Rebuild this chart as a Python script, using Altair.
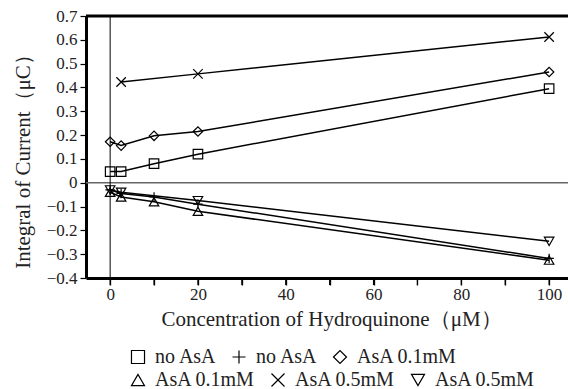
import altair as alt
import pandas as pd

# ---- data ----
series_names = ["no AsA", "no AsA ", "AsA 0.1mM", "AsA 0.1mM ", "AsA 0.5mM", "AsA 0.5mM "]
shapes = ["square", "M-1,0L1,0M0,-1L0,1", "diamond", "triangle-up",
          "M-1,-1L1,1M1,-1L-1,1", "triangle-down"]
legend_row1 = ["no AsA", "no AsA ", "AsA 0.1mM"]
legend_row2 = ["AsA 0.1mM ", "AsA 0.5mM", "AsA 0.5mM "]

sq_x = [0, 2.5, 10, 20, 100]
sq_y = [0.047, 0.047, 0.08, 0.12, 0.395]
pl_x = [0, 2.5, 10, 20, 100]
pl_y = [-0.03, -0.045, -0.06, -0.09, -0.318]
di_x = [0, 2.5, 10, 20, 100]
di_y = [0.172, 0.156, 0.197, 0.215, 0.465]
tr_x = [0, 2.5, 10, 20, 100]
tr_y = [-0.04, -0.06, -0.08, -0.12, -0.325]
cr_x = [2.5, 20, 100]
cr_y = [0.423, 0.457, 0.612]
td_x = [0, 2.5, 20, 100]
td_y = [-0.03, -0.04, -0.075, -0.246]

xs = [sq_x, pl_x, di_x, tr_x, cr_x, td_x]
ys = [sq_y, pl_y, di_y, tr_y, cr_y, td_y]

x_ticks = [0, 10, 20, 30, 40, 50, 60, 70, 80, 90, 100]
y_ticks = [-0.4, -0.3, -0.2, -0.1, 0, 0.1, 0.2, 0.3, 0.4, 0.5, 0.6, 0.7]

rows = []
for name, xv, yv in zip(series_names, xs, ys):
    for a, b in zip(xv, yv):
        rows.append({"series": name, "conc": a, "q": b})
df = pd.DataFrame(rows)

FONT = "Liberation Serif"
TXT = "#222"
PH = 262  # plot height

xscale = alt.Scale(domain=[-5.5, 104.3], nice=False, zero=False)
yscale = alt.Scale(domain=[-0.4, 0.7], nice=False, zero=False)

xaxis = alt.Axis(values=x_ticks,
                 labelExpr="datum.value % 20 == 0 ? datum.label : ''",
                 labelOverlap=False, tickCount=11,
                 grid=False, domainWidth=3, domainColor="black",
                 tickColor="black", tickSize=7, tickWidth=1.3,
                 labelFont=FONT, labelFontSize=17, labelColor=TXT,
                 labelPadding=1,
                 titleFont=FONT, titleFontSize=21, titleFontWeight="normal",
                 titleColor=TXT, titlePadding=6, titleX=245)
yaxis = alt.Axis(values=y_ticks,
                 labelExpr="datum.value == 0 ? '0' : replace(format(datum.value, '.1f'), '-', '−')",
                 labelOverlap=False, tickCount=12,
                 grid=False, domainWidth=3, domainColor="black",
                 tickColor="black", tickSize=6, tickWidth=1.2,
                 labelFont=FONT, labelFontSize=17, labelColor=TXT,
                 labelPadding=3,
                 titleFont=FONT, titleFontSize=21, titleFontWeight="normal",
                 titleColor=TXT, titlePadding=13, titleY=140)
XT = "Concentration of Hydroquinone（μM）"
YT = "Integral of Current（μC）"

xenc = alt.X("conc:Q", scale=xscale, title=XT, axis=xaxis)
yenc = alt.Y("q:Q", scale=yscale, title=YT, axis=yaxis)

base = alt.Chart(df)

lines = base.mark_line(color="black", strokeWidth=1.5).encode(
    x=xenc, y=yenc, detail="series:N")


def legend_at(y):
    return alt.Legend(title=None, orient="none", legendX=42, legendY=y,
                      columns=3, direction="horizontal",
                      labelFont=FONT, labelFontSize=20, labelColor=TXT,
                      symbolSize=170, symbolStrokeWidth=1.2,
                      symbolStrokeColor="black", symbolFillColor="transparent",
                      columnPadding=12, labelOffset=7)


def point_layer(names, y):
    sub = base.transform_filter(alt.FieldOneOfPredicate(field="series", oneOf=names))
    rng = [shapes[series_names.index(n)] for n in names]
    return sub.mark_point(filled=False, color="black", strokeWidth=1.2, size=90, opacity=1).encode(
        x=xenc, y=yenc,
        shape=alt.Shape("series:N", scale=alt.Scale(domain=names, range=rng),
                        legend=legend_at(y)))


pts1 = point_layer(legend_row1, 331)
pts2 = point_layer(legend_row2, 354)

zero_h = alt.Chart(pd.DataFrame({"v": [0]})).mark_rule(color="#666", strokeWidth=1.5).encode(
    y=alt.Y("v:Q", scale=yscale, title=YT, axis=yaxis))
zero_v = alt.Chart(pd.DataFrame({"v": [0]})).mark_rule(color="black", strokeWidth=1).encode(
    x=alt.X("v:Q", scale=xscale, title=XT, axis=xaxis))
top = alt.Chart(pd.DataFrame({"v": [0.7]})).mark_rule(color="black", strokeWidth=3).encode(
    y=alt.Y("v:Q", scale=yscale, title=YT, axis=yaxis))
# small tick marks below the x axis line at every 10
xtick_marks = alt.Chart(pd.DataFrame({"t": x_ticks})).mark_rule(
    color="black", strokeWidth=1.2, clip=False).encode(
    x=alt.X("t:Q", scale=xscale, title=XT, axis=xaxis),
    y=alt.value(PH), y2=alt.value(PH + 7))

chart = alt.layer(lines, pts1, pts2, zero_h, zero_v, top, xtick_marks).resolve_scale(
    shape="independent"
).properties(
    width=482, height=PH,
    autosize=alt.AutoSizeParams(type="none"),
    padding={"left": 86, "top": 16, "right": 0, "bottom": 111},
    background="white",
).configure_view(stroke=None)

chart.save("out.html", embed_options={"renderer": "svg", "actions": False})
